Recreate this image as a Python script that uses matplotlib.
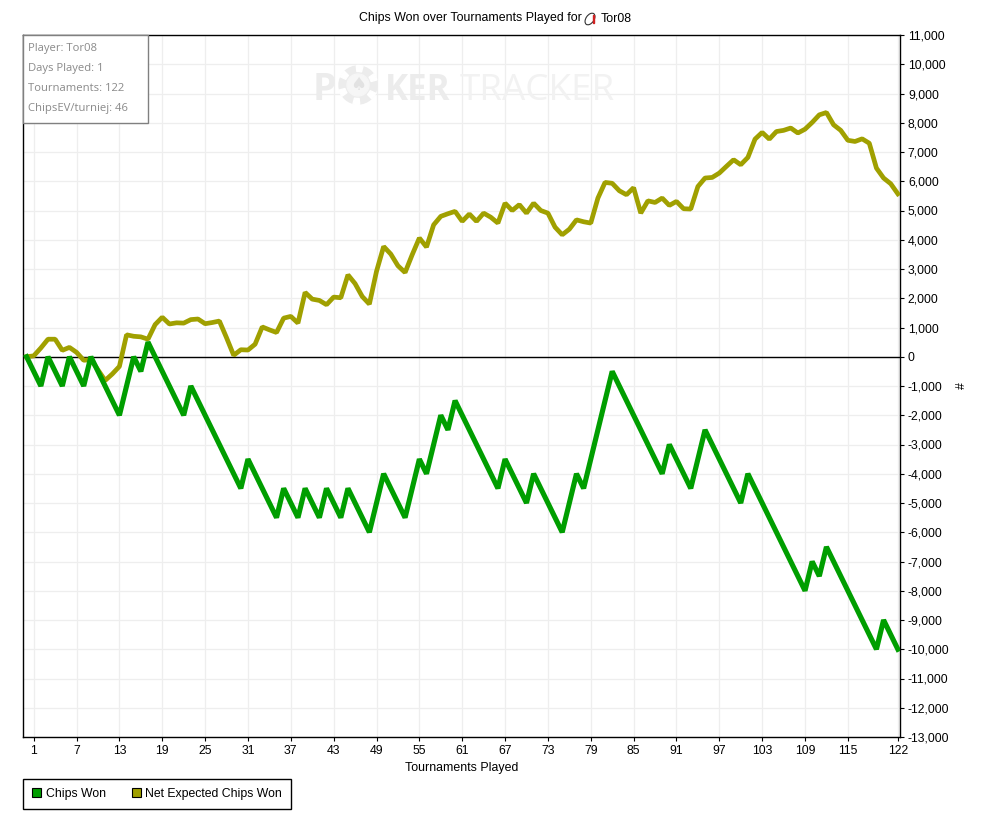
import matplotlib
matplotlib.use("Agg")
import matplotlib.pyplot as plt
from matplotlib.patches import Patch, Rectangle, Ellipse, Circle, Wedge
from matplotlib.ticker import FuncFormatter
from matplotlib.transforms import IdentityTransform

plt.rcParams["font.family"] = ["Liberation Sans", "DejaVu Sans"]
plt.rcParams["font.size"] = 8.8

W, H = 983, 823

chips_won = [
    0, -500, -1000, 0, -500, -1000, 0, -500, -1000, 0,
    -500, -1000, -1500, -2000, -1000, 0, -500, 500, 0, -500,
    -1000, -1500, -2000, -1000, -1500, -2000, -2500, -3000, -3500, -4000,
    -4500, -3500, -4000, -4500, -5000, -5500, -4500, -5000, -5500, -4500,
    -5000, -5500, -4500, -5000, -5500, -4500, -5000, -5500, -6000, -5000,
    -4000, -4500, -5000, -5500, -4500, -3500, -4000, -3000, -2000, -2500,
    -1500, -2000, -2500, -3000, -3500, -4000, -4500, -3500, -4000, -4500,
    -5000, -4000, -4500, -5000, -5500, -6000, -5000, -4000, -4500, -3500,
    -2500, -1500, -500, -1000, -1500, -2000, -2500, -3000, -3500, -4000,
    -3000, -3500, -4000, -4500, -3500, -2500, -3000, -3500, -4000, -4500,
    -5000, -4000, -4500, -5000, -5500, -6000, -6500, -7000, -7500, -8000,
    -7000, -7500, -6500, -7000, -7500, -8000, -8500, -9000, -9500, -10000,
    -9000, -9500, -10000,
]
net_expected = [
    0, 30, 300, 600, 600, 220, 320, 150, -120, -100,
    -450, -810, -590, -330, 750, 700, 680, 600, 1100, 1350,
    1120, 1160, 1150, 1270, 1290, 1130, 1170, 1220, 650, 50,
    240, 230, 430, 1020, 920, 830, 1320, 1380, 1150, 2200,
    1970, 1925, 1780, 2040, 2017, 2800, 2500, 2060, 1800, 2920,
    3770, 3510, 3110, 2880, 3490, 4060, 3750, 4510, 4800, 4890,
    4970, 4630, 4880, 4630, 4910, 4770, 4570, 5250, 5000, 5200,
    4910, 5250, 5000, 4910, 4430, 4170, 4360, 4680, 4615, 4570,
    5425, 5960, 5930, 5675, 5540, 5780, 4910, 5330, 5275, 5425,
    5175, 5310, 5060, 5050, 5820, 6110, 6130, 6280, 6510, 6735,
    6565, 6815, 7440, 7670, 7440, 7700, 7740, 7820, 7650, 7780,
    8010, 8270, 8350, 7930, 7740, 7400, 7360, 7450, 7300, 6450,
    6110, 5915, 5570,
]
tournaments = list(range(len(chips_won)))
x_ticks = [1, 7, 13, 19, 25, 31, 37, 43, 49, 55, 61, 67, 73, 79, 85, 91, 97, 103, 109, 115, 122]
y_ticks = list(range(-13000, 12000, 1000))
info_lines = ["Player: Tor08", "Days Played: 1", "Tournaments: 122", "ChipsEV/turniej: 46"]

GREEN = "#009e00"
OLIVE = "#a0a000"


def fx(px):
    return px / W


def fy(py):
    return 1 - py / H


fig = plt.figure(figsize=(W / 100, H / 100), dpi=100)
ax = fig.add_axes([fx(23), fy(737), fx(900 - 23), (737 - 35) / H])

ax.set_xlim(-0.5, 122.3)
ax.set_ylim(-13000, 11000)
ax.set_xticks(x_ticks)
ax.set_yticks(y_ticks)
ax.yaxis.tick_right()
ax.yaxis.set_major_formatter(FuncFormatter(lambda v, pos: f"{int(v):,}"))
ax.tick_params(axis="both", length=3.2, width=0.8, color="black", labelsize=8.8, pad=2.5)
ax.grid(True, color="#eeeeee", linewidth=0.9)
ax.set_axisbelow(True)
for side in ax.spines.values():
    side.set_linewidth(1.0)

# watermark sits under the lines
WM_DARK = "#ececec"
WM_LIGHT = "#f2f2f2"
px_tr = IdentityTransform()
ax.text(fx(313), fy(100), "P", transform=fig.transFigure, fontsize=27, fontweight="bold", color=WM_DARK,
        family="Open Sans", zorder=0.7)
ax.add_patch(Circle((358, H - 85), 19, transform=px_tr, color=WM_DARK, zorder=0.6, clip_on=False))
for a in range(0, 360, 60):
    ax.add_patch(Wedge((358, H - 85), 19.5, a + 15, a + 35, width=6, transform=px_tr, color="white", zorder=0.65))
ax.add_patch(Circle((358, H - 85), 11, transform=px_tr, color="#f6f6f6", zorder=0.66))
ax.text(fx(358), fy(85), "\u2660", transform=fig.transFigure, fontsize=13, color="#e2e2e2", ha="center", va="center",
        family="DejaVu Sans", zorder=0.7)
ax.text(fx(385), fy(100), "KER", transform=fig.transFigure, fontsize=25, fontweight="bold", color=WM_DARK,
        family="Open Sans", zorder=0.7)
ax.text(fx(460), fy(100), "TRACKER", transform=fig.transFigure, fontsize=26.5, color=WM_LIGHT,
        family="Open Sans", zorder=0.7)

ax.axhline(0, color="black", linewidth=1.0, zorder=2)
ax.plot(tournaments, net_expected, color=OLIVE, linewidth=3.4, solid_joinstyle="bevel", zorder=3)
ax.plot(tournaments, chips_won, color=GREEN, linewidth=3.7, solid_joinstyle="bevel", zorder=4)

fig.text(fx(462), fy(767.5), "Tournaments Played", ha="center", va="center", fontsize=8.9)
fig.text(fx(962), fy(386), "#", rotation=90, ha="center", va="center", fontsize=8.8)

# title, with the little site icon between the two parts
fig.text(fx(582), fy(18.5), "Chips Won over Tournaments Played for", ha="right", va="center", fontsize=8.95)
fig.text(fx(601), fy(18.5), "Tor08", ha="left", va="center", fontsize=8.95)
fig.add_artist(Ellipse((590, H - 19), 8, 13, angle=-35, fill=False, edgecolor="#333333", linewidth=0.8,
                       transform=px_tr))
fig.add_artist(Rectangle((593, H - 23), 1.3, 8, color="#d02020", transform=px_tr))

# info box in the top left corner
fig.add_artist(Rectangle((fx(23), fy(123)), 125 / W, 88 / H, facecolor="white", edgecolor="#808080",
                         linewidth=1.0, transform=fig.transFigure, zorder=5))
for i, line in enumerate(info_lines):
    fig.text(fx(28.5), fy(48.5 + i * 20), line, ha="left", va="center", fontsize=8.1, color="#8a8a8a",
             family="Open Sans", zorder=6)

handles = [
    Patch(facecolor=GREEN, edgecolor="black", linewidth=0.8, label="Chips Won"),
    Patch(facecolor=OLIVE, edgecolor="black", linewidth=0.8, label="Net Expected Chips Won"),
]
fig.legend(handles=handles, ncol=2, loc="lower left", bbox_to_anchor=(fx(23), fy(809)), borderaxespad=0,
           fancybox=False, framealpha=1, edgecolor="black", fontsize=8.8, handlelength=0.75, handleheight=0.75,
           handletextpad=0.35, columnspacing=2.15, borderpad=0.75)

fig.savefig("out.png", dpi=100)
